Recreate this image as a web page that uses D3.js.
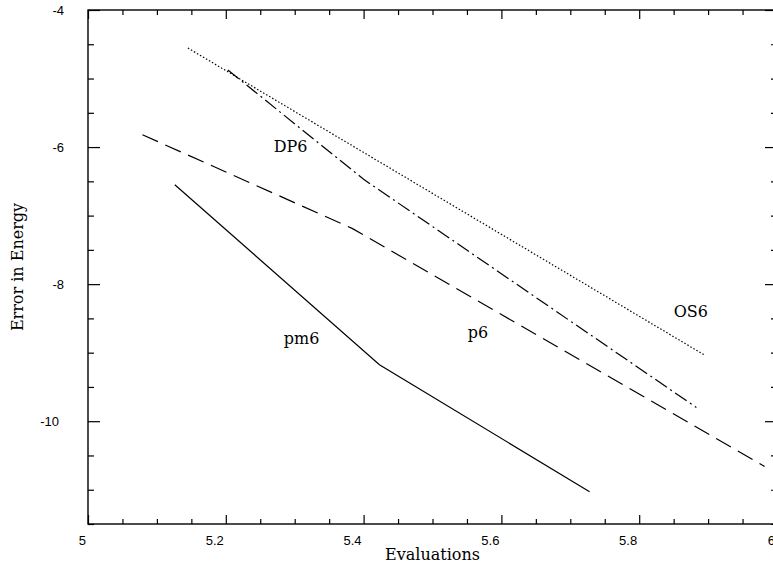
<!DOCTYPE html>
<html>
<head>
<meta charset="utf-8">
<script src="https://cdn.jsdelivr.net/npm/d3@7"></script>
<style>
  html, body { margin: 0; padding: 0; background: #fff; overflow: hidden; }
  svg { display: block; }
</style>
</head>
<body>
<svg id="chart" width="773" height="571"></svg>
<script>
// Series (x = evaluations, y = error in energy)
const pm6 = [[5.126, -6.55], [5.423, -9.175], [5.728, -11.03]];
const p6  = [[5.079, -5.82], [5.384, -7.19], [5.982, -10.66]];
const dp6 = [[5.203, -4.875], [5.40, -6.47], [5.883, -9.80]];
const os6 = [[5.145, -4.555], [5.894, -9.03]];

const xMajor = [5, 5.2, 5.4, 5.6, 5.8, 6];
const yMajor = [-4, -6, -8, -10];

const labels = [
  { text: 'DP6', x: 5.294, y: -6.07 },
  { text: 'pm6', x: 5.310, y: -8.88 },
  { text: 'p6',  x: 5.566, y: -8.78 },
  { text: 'OS6', x: 5.875, y: -8.475 }
];

const margin = { top: 10, left: 88, bottom: 524, right: 777 };

const svg = d3.select('#chart');

const x = d3.scaleLinear().domain([5, 6]).range([margin.left, margin.right]);
const y = d3.scaleLinear().domain([-4, -11.5]).range([margin.top, margin.bottom]);

const xMinor = d3.range(5, 6.0001, 0.05).filter(v => !xMajor.some(m => Math.abs(m - v) < 1e-6));
const yMinor = d3.range(-4, -11.5001, -0.5).filter(v => !yMajor.some(m => Math.abs(m - v) < 1e-6));

// Frame
svg.append('rect')
  .attr('x', margin.left).attr('y', margin.top)
  .attr('width', margin.right - margin.left).attr('height', margin.bottom - margin.top)
  .attr('fill', 'none').attr('stroke', '#000').attr('stroke-width', 1.4);

// Inward ticks on all four sides
function ticks(axis, values, size, translate) {
  const g = svg.append('g').attr('transform', translate)
    .call(axis.tickValues(values).tickSizeInner(-size).tickSizeOuter(0).tickFormat(''));
  g.select('.domain').remove();
  g.selectAll('line').attr('stroke', '#000').attr('stroke-width', 1.2);
  return g;
}

ticks(d3.axisBottom(x), xMajor, 9, `translate(0,${margin.bottom})`);
ticks(d3.axisBottom(x), xMinor, 5, `translate(0,${margin.bottom})`);
ticks(d3.axisTop(x), xMajor, 9, `translate(0,${margin.top})`);
ticks(d3.axisTop(x), xMinor, 5, `translate(0,${margin.top})`);
ticks(d3.axisLeft(y), yMajor, 12, `translate(${margin.left},0)`);
ticks(d3.axisLeft(y), yMinor, 6, `translate(${margin.left},0)`);
ticks(d3.axisRight(y), yMajor, 12, `translate(${margin.right},0)`);
ticks(d3.axisRight(y), yMinor, 6, `translate(${margin.right},0)`);

// Tick labels (plain hyphen minus, as in the original)
const sans = '"Liberation Sans", Arial, sans-serif';
svg.append('g').selectAll('text').data(xMajor).join('text')
  .attr('x', d => x(d) - 2).attr('y', 545)
  .attr('text-anchor', 'end')
  .style('font-family', sans).style('font-size', '13px')
  .text(d => String(d));

svg.append('g').selectAll('text').data(yMajor).join('text')
  .attr('x', d => d <= -10 ? 59 : 64).attr('y', d => y(d)).attr('dy', '0.35em')
  .attr('text-anchor', 'end')
  .style('font-family', sans).style('font-size', '13px')
  .text(d => String(d));

// Axis titles
const serif = '"DejaVu Serif", serif';
svg.append('text')
  .attr('x', (margin.left + margin.right) / 2).attr('y', 560)
  .attr('text-anchor', 'middle')
  .style('font-family', serif).style('font-size', '16px')
  .text('Evaluations');

svg.append('text')
  .attr('transform', `translate(23,${(margin.top + margin.bottom) / 2}) rotate(-90)`)
  .attr('text-anchor', 'middle')
  .style('font-family', serif).style('font-size', '16px')
  .text('Error in Energy');

// Lines
const line = d3.line().x(d => x(d[0])).y(d => y(d[1]));
const series = [
  { data: pm6, dash: null },
  { data: p6, dash: '17,8' },
  { data: dp6, dash: '14,4,2,4' },
  { data: os6, dash: '1.5,2' }
];
svg.append('g').selectAll('path').data(series).join('path')
  .attr('d', d => line(d.data))
  .attr('fill', 'none').attr('stroke', '#000').attr('stroke-width', 1.2)
  .attr('stroke-dasharray', d => d.dash);

// Curve labels
svg.append('g').selectAll('text').data(labels).join('text')
  .attr('x', d => x(d.x)).attr('y', d => y(d.y))
  .attr('text-anchor', 'middle')
  .style('font-family', serif).style('font-size', '16px')
  .text(d => d.text);
</script>
</body>
</html>
